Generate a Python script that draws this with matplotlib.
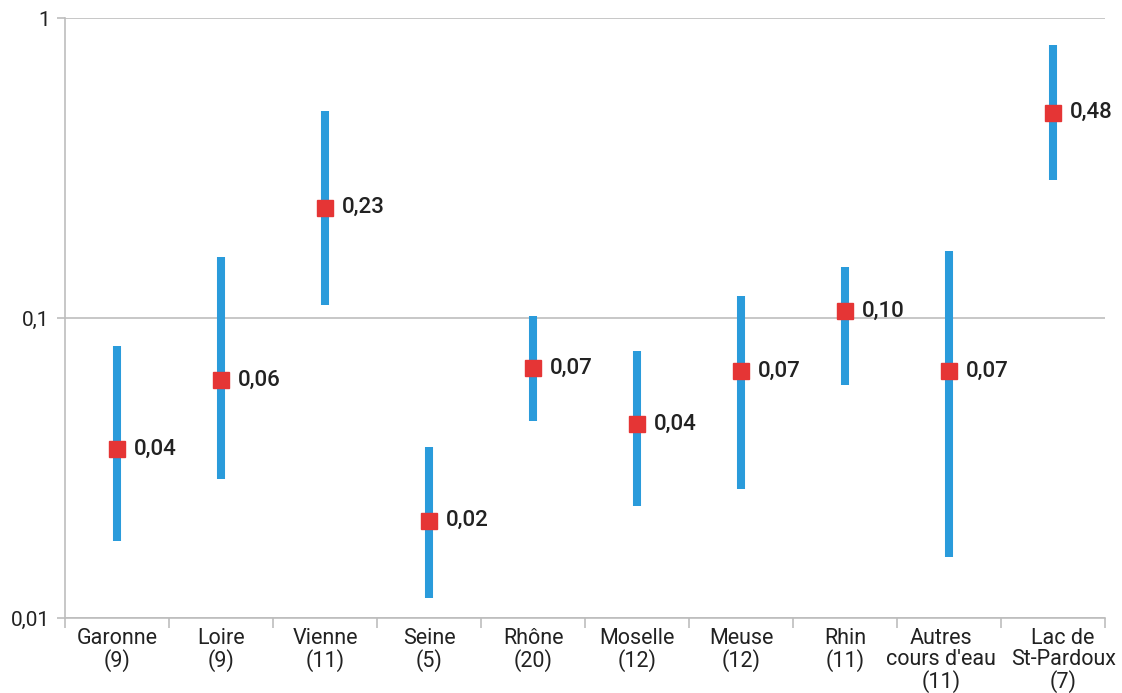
import numpy as np
import matplotlib.pyplot as plt
from matplotlib.ticker import FixedLocator, NullLocator
from matplotlib.transforms import ScaledTranslation

# ---- data ----
categories = ["Garonne\n(9)", "Loire\n(9)", "Vienne\n(11)", "Seine\n(5)", "Rhône\n(20)",
              "Moselle\n(12)", "Meuse\n(12)", "Rhin\n(11)", "Autres\ncours d'eau\n(11)",
              "Lac de\nSt-Pardoux\n(7)"]
center = [0.0366, 0.0621, 0.233, 0.0211, 0.0682, 0.0443, 0.0666, 0.1055, 0.0666, 0.483]
upper = [0.0807, 0.1596, 0.490, 0.0372, 0.1015, 0.0776, 0.1184, 0.148, 0.167, 0.813]
lower = [0.0181, 0.0291, 0.1105, 0.0117, 0.0453, 0.0236, 0.0269, 0.0598, 0.0160, 0.288]
labels = ["0,04", "0,06", "0,23", "0,02", "0,07", "0,04", "0,07", "0,10", "0,07", "0,48"]

plt.rcParams['font.family'] = ['Roboto', 'DejaVu Sans']

blue = "#2a9bdb"
red = "#e53535"
grey = "#bdbdbd"
txt = "#222222"

fig = plt.figure(figsize=(11.22, 6.93), dpi=100)
ax = fig.add_axes([0.058, 0.108, 0.927, 0.866])

x = np.arange(len(categories))
ax.vlines(x, lower, upper, color=blue, linewidth=5.8, zorder=3)
ax.plot(x, center, linestyle="none", marker="s", markersize=11.5,
        color=red, zorder=4)
for xi, yi, lab in zip(x, center, labels):
    ax.annotate(lab, (xi, yi), xytext=(12, 0), textcoords="offset points",
                ha="left", va="center", fontsize=16, fontweight="medium", color=txt)

ax.set_yscale("log")
ax.set_ylim(0.01, 1)
ax.set_xlim(-0.5, len(categories) - 0.5)

ax.yaxis.set_major_locator(FixedLocator([0.01, 0.1, 1]))
ax.yaxis.set_minor_locator(NullLocator())
ax.set_yticklabels(["0,01", "0,1", "1"])
ax.grid(axis="y", which="major", color=grey, linewidth=1.2, zorder=0)

ax.set_xticks(x)
ax.set_xticklabels(categories, linespacing=1.0)
ax.set_xticks(np.arange(-0.5, len(categories), 1), minor=True)
ax.tick_params(axis="x", which="major", length=0, pad=7, labelsize=15.5, labelcolor=txt)
ax.tick_params(axis="x", which="minor", length=7, width=1.2, color=grey)
ax.tick_params(axis="y", length=6, width=1.2, color=grey, labelsize=15,
               labelcolor=txt, pad=5)

# the last two labels are nudged apart so they don't collide
xt = ax.get_xticklabels()
xt[8].set_transform(xt[8].get_transform() + ScaledTranslation(-8 / 100, 0, fig.dpi_scale_trans))
xt[9].set_transform(xt[9].get_transform() + ScaledTranslation(10 / 100, 0, fig.dpi_scale_trans))

for side in ["top", "right"]:
    ax.spines[side].set_visible(False)
for side in ["left", "bottom"]:
    ax.spines[side].set_color(grey)
    ax.spines[side].set_linewidth(1.2)

fig.savefig("out.png", dpi=100)
